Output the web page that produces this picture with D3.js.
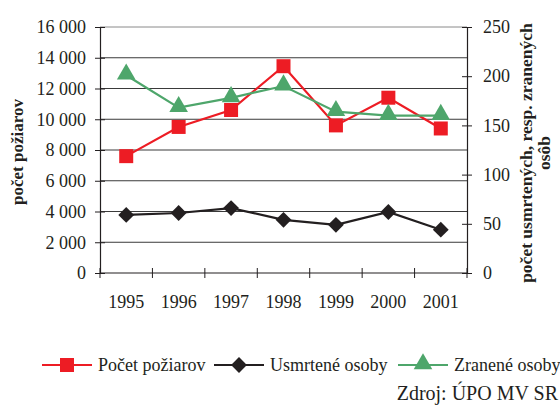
<!DOCTYPE html>
<html><head><meta charset="utf-8">
<script src="https://cdn.jsdelivr.net/npm/d3@7"></script>
<style>body{margin:0;background:#fff}svg{display:block}text{font-family:"Liberation Serif","Times New Roman",serif;fill:#231f20}</style>
</head><body><svg id="c" width="560" height="408"></svg>
<script>
const years = ["1995","1996","1997","1998","1999","2000","2001"];
const fires = [7600, 9500, 10600, 13450, 9600, 11400, 9400];
const deaths = [59, 61, 66, 54, 49, 62, 44];
const injured = [201, 168, 178, 190, 164, 160, 160];
const leftTicks = [0, 2000, 4000, 6000, 8000, 10000, 12000, 14000, 16000];
const rightTicks = [0, 50, 100, 150, 200, 250];
const seriesNames = ["Počet požiarov", "Usmrtené osoby", "Zranené osoby"];

const svg = d3.select("#c");
const L = 100, R = 467, T = 27, B = 273;
const x = d3.scaleBand().domain(years).range([L, R]);
const yL = d3.scaleLinear().domain([0, 16000]).range([B, T]);
const yR = d3.scaleLinear().domain([0, 250]).range([B, T]);
const fmt = v => d3.format(",")(v).replace(/,/g, " ");
const ink = "#231f20";

// gridlines
svg.append("g").selectAll("line").data(leftTicks.filter(v => v > 0)).join("line")
  .attr("x1", L).attr("x2", R).attr("y1", d => yL(d)).attr("y2", d => yL(d))
  .attr("stroke", d => d === 16000 ? "#8a8a8a" : "#3a3a3a").attr("stroke-width", 1);

// left axis
const gl = svg.append("g").attr("transform", `translate(${L},0)`)
  .call(d3.axisLeft(yL).tickValues(leftTicks).tickFormat(fmt).tickSize(5).tickPadding(9));
gl.selectAll("line").attr("x2", -5).attr("x1", 5);
// right axis
const gr = svg.append("g").attr("transform", `translate(${R},0)`)
  .call(d3.axisRight(yR).tickValues(rightTicks).tickSize(5).tickPadding(11));
gr.selectAll("line").attr("x2", 5).attr("x1", -5);
// bottom axis with category boundary ticks
const gb = svg.append("g").attr("transform", `translate(0,${B})`)
  .call(d3.axisBottom(x).tickSize(0).tickPadding(22));
gb.selectAll(".bound").data(d3.range(years.length + 1)).join("line").attr("class", "bound")
  .attr("x1", i => L + i * x.step()).attr("x2", i => L + i * x.step())
  .attr("y1", -5).attr("y2", 5).attr("stroke", ink);
[gl, gr, gb].forEach(g => {
  g.selectAll(".domain").attr("stroke", ink).attr("stroke-width", 1.2);
  g.selectAll(".tick line").attr("stroke", ink);
  g.selectAll("text").attr("font-size", 18).attr("fill", ink)
    .style("font-family", '"Liberation Serif", serif');
});
gb.select(".domain").attr("d", `M${L},0H${R}`);

const cx = d => x(d) + x.bandwidth() / 2;

// series
const red = "#ed1c24", blk = "#231f20", grn = "#4ea66b";
function drawLine(vals, scale, color) {
  svg.append("path").datum(vals)
    .attr("d", d3.line().x((d, i) => cx(years[i])).y(d => scale(d)))
    .attr("fill", "none").attr("stroke", color).attr("stroke-width", 2.2);
}
const sq = d3.symbol().type(d3.symbolSquare).size(196);
const dm = d3.symbol().type(d3.symbolSquare).size(125);
const tr = d3.symbol().type(d3.symbolTriangle).size(150);

drawLine(fires, yL, red);
svg.append("g").selectAll("path").data(fires).join("path")
  .attr("d", sq).attr("fill", red)
  .attr("transform", (d, i) => `translate(${cx(years[i])},${yL(d)})`);
drawLine(deaths, yR, blk);
svg.append("g").selectAll("path").data(deaths).join("path")
  .attr("d", dm).attr("fill", blk)
  .attr("transform", (d, i) => `translate(${cx(years[i])},${yR(d)}) rotate(45)`);
drawLine(injured, yR, grn);
svg.append("g").selectAll("path").data(injured).join("path")
  .attr("d", tr).attr("fill", grn)
  .attr("transform", (d, i) => `translate(${cx(years[i])},${yR(d) - 1})`);

// axis titles
svg.append("text").attr("transform", "translate(23,152) rotate(-90)")
  .attr("text-anchor", "middle").attr("font-size", 17).attr("font-weight", "bold")
  .text("počet požiarov");
const rt = svg.append("text").attr("transform", "translate(532,153) rotate(-90)")
  .attr("text-anchor", "middle").attr("font-size", 17.5).attr("font-weight", "bold");
rt.append("tspan").attr("x", 0).attr("dy", 0).text("počet usmrtených, resp. zranených");
rt.append("tspan").attr("x", 0).attr("dy", 18).text("osôb");

// legend
const legendX = [42, 214, 398];
const markers = [sq, dm, tr];
const colors = [red, blk, grn];
const lg = svg.append("g").attr("transform", "translate(0,365)");
seriesNames.forEach((n, i) => {
  const g = lg.append("g").attr("transform", `translate(${legendX[i]},0)`);
  g.append("line").attr("x1", 0).attr("x2", 50).attr("y1", 0).attr("y2", 0)
    .attr("stroke", colors[i]).attr("stroke-width", 2.2);
  g.append("path").attr("d", markers[i]).attr("fill", colors[i])
    .attr("transform", `translate(25,${i === 2 ? -1 : 0})${i === 1 ? " rotate(45)" : ""}`);
  g.append("text").attr("x", 56).attr("y", 6).attr("font-size", 18).text(n);
});

svg.append("text").attr("x", 558).attr("y", 400).attr("text-anchor", "end")
  .attr("font-size", 20).text("Zdroj: ÚPO MV SR");
</script></body></html>
